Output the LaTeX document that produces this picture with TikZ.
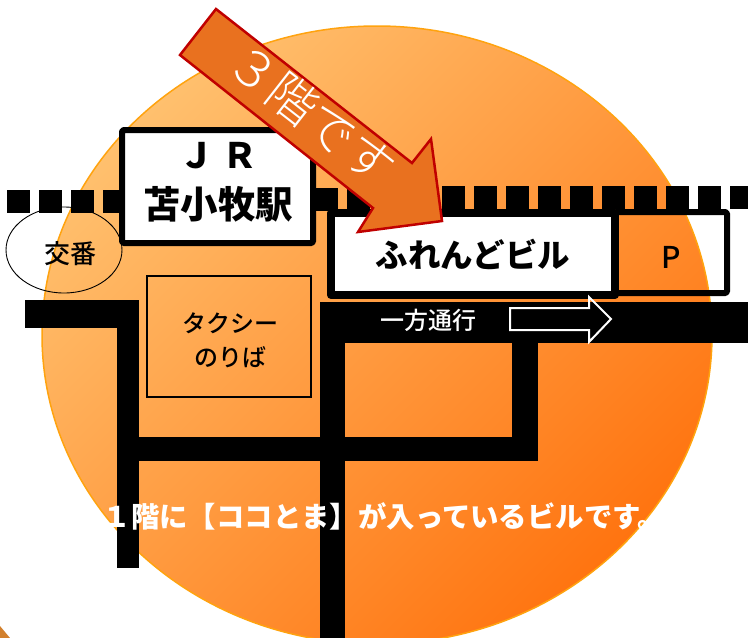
\documentclass[tikz,border=0pt]{standalone}
\usepackage{fontspec}
\setmainfont{Noto Sans CJK JP}
\newfontfamily\medfont{Noto Sans CJK JP Medium}
\newfontfamily\lightfont{Noto Sans CJK JP Light}
\usetikzlibrary{shadings,shapes.geometric}
\definecolor{blobedge}{HTML}{FFA30F}
\definecolor{blobA}{HTML}{FFC06E}
\definecolor{blobB}{HTML}{FF7410}
\definecolor{arrowfill}{HTML}{E9711F}
\definecolor{arrowedge}{HTML}{C00000}
\tikzset{
  road/.style={fill=black,draw=none},
  wall/.style={draw=black,line join=round},
  lbl/.style={inner sep=0pt,align=center,text=black},
}
\newcommand{\fs}[1]{\fontsize{#1}{#1}\selectfont}
\begin{document}
\begin{tikzpicture}[x=1pt,y=-1pt]
\useasboundingbox (0,0) rectangle (748,638);
\fill[white] (0,0) rectangle (748,638);
\begin{scope}
\clip (0,0) rectangle (748,638);
\fill[fill=brown!70!orange] (0,626) -- (10,638) -- (0,638) -- cycle;
\shade[draw=blobedge,line width=1.5pt,top color=blobA,bottom color=blobB,shading angle=45] (377,335) ellipse [x radius=335,y radius=309];
\end{scope}
% rail
\foreach \x/\y in {7/190,39/190,71/190,103/190,315/188,347/188,442/186,474/186,506/186,538/186,570/186,602/186,634/186,666/186,698/186,730/186}
  \fill[black] (\x,\y) rectangle ++(23,23);
% koban
\node[draw=black,line width=0.9pt,ellipse,minimum width=116pt,minimum height=86pt,inner sep=0pt] (koban) at (64,250) {};
\node[lbl,font=\medfont\fs{26}] (kobantext) at (71,254) {交番};
% roads
\fill[road] (25,300) rectangle (139,328);
\fill[road] (117,300) rectangle (139,568);
\fill[road] (117,437) rectangle (538,461);
\fill[road] (512,340) rectangle (538,461);
\fill[road] (320,302) rectangle (748,343);
\fill[road] (320,302) rectangle (345,638);
% taxi
\node[draw=black,line width=1.1pt,minimum width=164pt,minimum height=121pt,inner sep=0pt] (taxi) at (229,336.5) {};
\node[lbl,font=\medfont\fs{24}] (taxitext) at (230,340) {タクシー\\[10pt]のりば};
% JR
\node[wall,fill=white,line width=6pt,rounded corners=1.5pt,minimum width=191pt,minimum height=113pt,inner sep=0pt] (jr) at (217.5,186.5) {};
\node[lbl,font=\fs{35}\bfseries] (jr1) at (219,156) {Ｊ Ｒ};
\node[lbl,font=\fs{37.5}\bfseries] (jr2) at (218,204) {苫小牧駅};
% building
\node[wall,line width=6pt,rounded corners=1.5pt,minimum width=112pt,minimum height=81pt,inner sep=0pt] (pbox) at (671,252.5) {};
\node[wall,fill=white,line width=8pt,minimum width=284pt,minimum height=82pt,inner sep=0pt] (bldg) at (473,254) {};
\node[lbl,font=\fs{32.5}\bfseries] (bldgtext) at (473,254) {ふれんどビル};
\node[lbl,font=\medfont\fs{30}] (ptext) at (671,257) {P};
% one way
\node[lbl,text=white,font=\medfont\fs{24}] (oneway) at (428,320) {一方通行};
\draw[white,line width=2pt,miter limit=10] (510,308) -- (589,308) -- (589,297) -- (611,319) -- (589,342) -- (589,330) -- (510,330) -- cycle;
% big arrow
\draw[fill=arrowfill,draw=arrowedge,line width=2.5pt,line join=miter] (216,9) -- (412,163) -- (431,139) -- (442,221) -- (358,232) -- (373,208) -- (180,55) -- cycle;
\node[lbl,text=white,font=\lightfont\fs{49},rotate=-38] (floor3) at (312,114) {３階です};
% caption
\node[lbl,text=white,font=\fs{28.4}\bfseries] (caption) at (384.5,516) {１階に【ココとま】が入っているビルです。};
\end{tikzpicture}
\end{document}
